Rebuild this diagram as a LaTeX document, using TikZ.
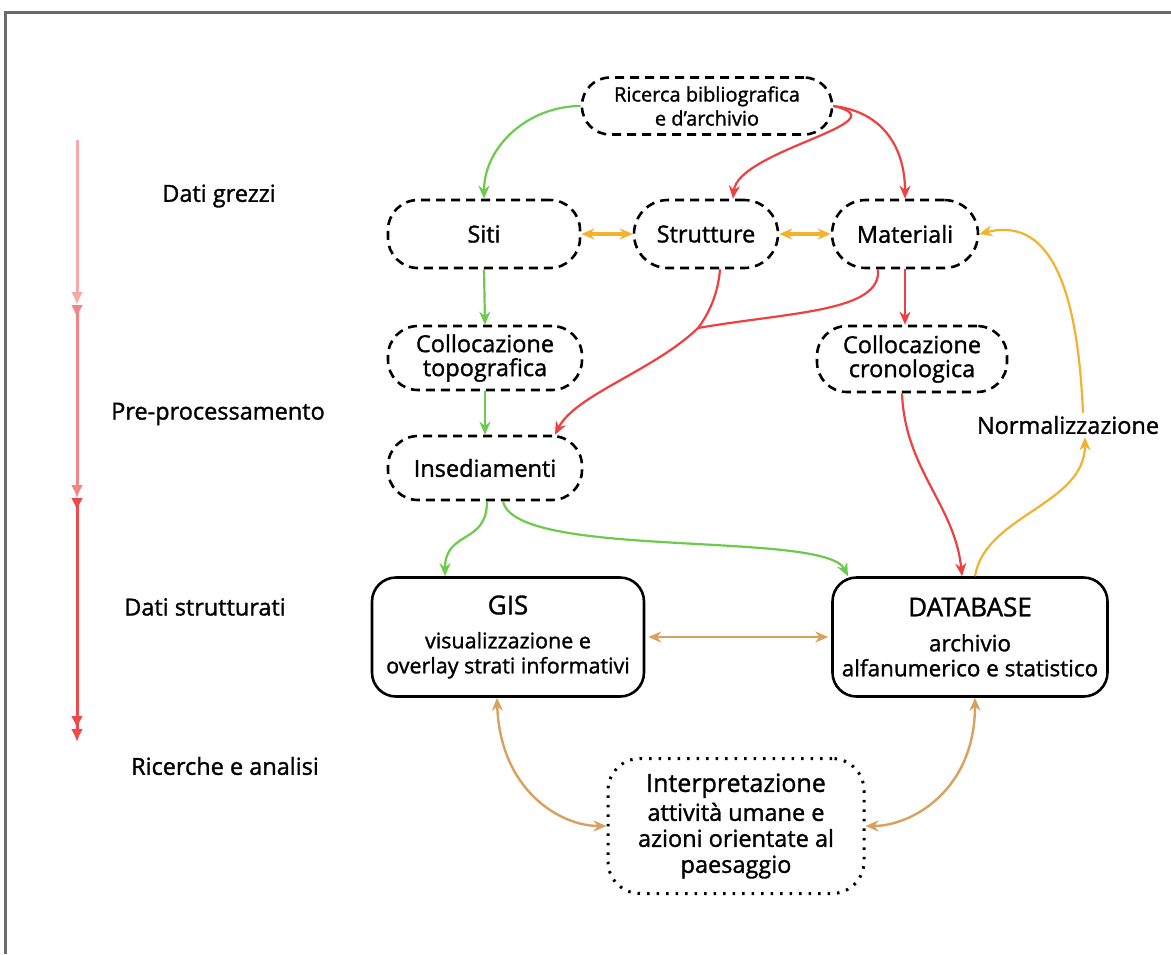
\documentclass[tikz,border=0pt]{standalone}
\usepackage{fontspec}
\setmainfont{Open Sans}[FakeBold=1.3]
\usetikzlibrary{arrows.meta}
\definecolor{cgreen}{HTML}{6CCB4C}
\definecolor{cred}{HTML}{EE4040}
\definecolor{corange}{HTML}{F3B22E}
\definecolor{ctan}{HTML}{D9A05E}
\definecolor{cframe}{HTML}{6A6A6A}
\newcommand{\fsz}[2]{\fontsize{#1}{#2}\selectfont}
\tikzset{
  dbox/.style={draw=black, line width=2.6pt, dash pattern=on 9pt off 6pt,
    rounded corners=30pt, align=center, inner sep=2pt, font=\fsz{23.5}{25}},
  solidbox/.style={draw=black, line width=2.6pt, rounded corners=24pt, align=center,
    minimum width=272pt, minimum height=119pt},
  dotbox/.style={draw=black, line width=3pt, dash pattern=on 2.5pt off 7pt,
    rounded corners=32pt, align=center, font=\fsz{23.5}{26}},
  lbl/.style={font=\fsz{23.5}{25}},
  tip/.style={-{Stealth[length=13pt,width=11pt]}},
  conn/.style={line width=2.2pt, tip},
  twoway/.style={line width=2.4pt, {Stealth[length=13pt,width=11pt]}-{Stealth[length=13pt,width=11pt]}},
}
\begin{document}
\begin{tikzpicture}[x=1pt,y=-1pt]
\useasboundingbox (0,0) rectangle (1171,954);
\fill[white] (0,0) rectangle (1171,954);
% frame
\draw[cframe, line width=3pt] (1171,12) -- (5,12) -- (5,954);

% stage axis
\coordinate (a0) at (77,140);
\coordinate (a1) at (77,305);
\coordinate (a2) at (77,498);
\coordinate (a3) at (77,742);
\draw[cred!45, line width=3pt, -{Latex[length=13pt,width=12pt]}] (a0) -- (a1);
\draw[cred!65, line width=3pt, {Latex[reversed,length=13pt,width=12pt]}-{Latex[length=13pt,width=12pt]}] (a1) -- (a2);
\draw[cred!95, line width=3pt, {Latex[reversed,length=13pt,width=12pt]}-{Latex[length=13pt,width=12pt]Latex[length=13pt,width=12pt]}] (a2) -- (a3);

% stage labels
\node[lbl] (l1) at (219,196) {Dati grezzi};
\node[lbl] (l2) at (218,414) {Pre-processamento};
\node[lbl] (l3) at (205,607) {Dati strutturati};
\node[lbl] (l4) at (225,766) {Ricerche e analisi};

% nodes
\node[dbox, minimum width=250pt, minimum height=57pt, rounded corners=28pt,
      font=\fsz{20}{24}] (ric) at (707,106) {Ricerca bibliografica\\e d’archivio};
\node[dbox, minimum width=192pt, minimum height=68pt] (siti) at (484,234) {Siti};
\node[dbox, minimum width=144pt, minimum height=68pt, rounded corners=34pt] (strut) at (706,234) {Strutture};
\node[dbox, minimum width=146pt, minimum height=68pt, rounded corners=34pt] (mat) at (905,234) {Materiali};
\node[dbox, minimum width=194pt, minimum height=64pt, font=\fsz{23.5}{24}] (ctopo) at (485,358) {Collocazione\\topografica};
\node[dbox, minimum width=194pt, minimum height=64pt] (insed) at (485,468) {Insediamenti};
\node[dbox, minimum width=190pt, minimum height=66pt, font=\fsz{23.5}{24}] (ccron) at (912,359) {Collocazione\\cronologica};
\node[lbl, inner sep=3pt] (norm) at (1068,425) {Normalizzazione};

\node[solidbox, font=\fsz{21.5}{25}] (gis) at (508,637) {{\fsz{26}{30}GIS}\\[9pt]visualizzazione e\\overlay strati informativi};
\node[solidbox, minimum width=275pt, font=\fsz{22.5}{25}] (db) at (970,637) {{\fsz{26}{30}DATABASE}\\[10pt]archivio\\alfanumerico e statistico};
\node[dotbox, minimum width=256pt, minimum height=135pt] (interp) at (736,826)
  {{\fsz{25}{29}Interpretazione}\\[3pt]attività umane e\\azioni orientate al\\paesaggio};

% merge point of the two red branches
\coordinate (mrg) at (698,328);

% connectors from the sources
\draw[conn, cgreen] (ric.west) to[out=180,in=90] (siti.north);
\draw[conn, cred] (ric.east) .. controls (905,122) and (738,150) .. ([xshift=27pt]strut.north);
\draw[conn, cred] (ric.east) .. controls (885,112) and (905,150) .. (mat.north);

% links between raw data
\draw[twoway, corange, line width=3.5pt] (siti.east) -- (strut.west);
\draw[twoway, corange, line width=3.5pt] (strut.east) -- (mat.west);

% pre-processing
\draw[conn, cgreen] (siti.south) -- (ctopo.north);
\draw[conn, cgreen] (ctopo.south) -- (insed.north);
\draw[conn, cred] (mat.south) -- (ccron.north-|mat.south);
\draw[line width=2.2pt, cred] ([xshift=-27pt]mat.south) .. controls (882,312) and (790,312) .. (mrg);
\draw[conn, cred] ([xshift=14pt]strut.south) .. controls (718,295) and (708,315) .. (mrg)
   .. controls (655,370) and (575,395) .. ([xshift=70pt]insed.north);

% towards structured data
\draw[conn, cgreen] ([xshift=2pt]insed.south) .. controls (487,545) and (445,530) .. ([xshift=-63pt]gis.north);
\draw[conn, cgreen] ([xshift=18pt]insed.south) .. controls (515,560) and (825,530) .. ([xshift=-122pt]db.north);
\draw[conn, cred] ([xshift=-10pt]ccron.south) .. controls (905,470) and (955,505) .. ([xshift=-8pt]db.north);
\draw[conn, corange] ([xshift=5pt]db.north) .. controls (985,515) and (1085,505) .. ([xshift=17pt]norm.south);
\draw[conn, corange] ([xshift=15pt]norm.north) .. controls (1078,300) and (1055,215) .. (mat.east);

% structured data and analysis
\draw[twoway, ctan, shorten <=3pt, shorten >=3pt] (gis.east) -- (db.west);
\draw[twoway, ctan] ([xshift=-11pt]gis.south) .. controls (500,790) and (560,826) .. (interp.west);
\draw[twoway, ctan] ([xshift=5pt]db.south) .. controls (975,790) and (912,826) .. (interp.east);
\end{tikzpicture}
\end{document}
